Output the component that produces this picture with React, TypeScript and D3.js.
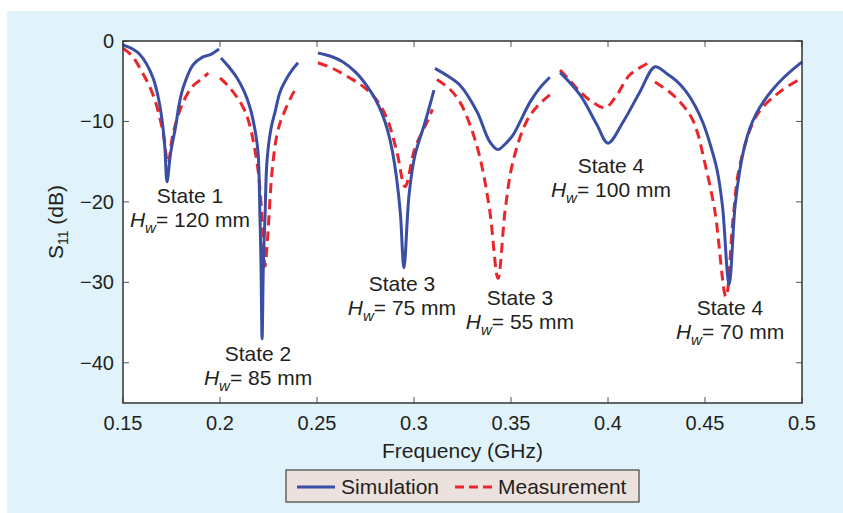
import React, { useEffect, useRef } from 'react'
import * as d3 from 'd3'

// axis ticks
const xTicks = [0.15, 0.2, 0.25, 0.3, 0.35, 0.4, 0.45, 0.5]
const yTicks = [0, -10, -20, -30, -40]

// simulation curve, null = gap between states
const simFreq = [
  0.150, 0.155, 0.1588, 0.162, 0.1655, 0.168, 0.170, 0.1715, 0.1727, 0.1745, 0.177, 0.179, 0.181, 0.186, 0.191, 0.195, 0.1995,
  null,
  0.2005, 0.2045, 0.2088, 0.2125, 0.2155, 0.218, 0.2196, 0.2206, 0.2211, 0.2217, 0.2224, 0.2232, 0.2242, 0.2262, 0.2284, 0.231, 0.2345, 0.2375, 0.2402,
  null,
  0.2505, 0.257, 0.2634, 0.270, 0.2758, 0.280, 0.2835, 0.2865, 0.2887, 0.291, 0.293, 0.2948, 0.2975, 0.3005, 0.3057, 0.3103,
  null,
  0.3108, 0.317, 0.3237, 0.3325, 0.339, 0.3433, 0.347, 0.351, 0.3598, 0.365, 0.370,
  null,
  0.3753, 0.3856, 0.3943, 0.400, 0.4077, 0.4165, 0.4242,
  0.430, 0.435, 0.440, 0.445, 0.449, 0.4525, 0.4562, 0.459, 0.4624, 0.4655, 0.468, 0.4705, 0.4732, 0.4765, 0.480, 0.485, 0.490, 0.495, 0.500,
]
const simDb = [
  -0.5, -1.0, -1.7, -2.8, -4.6, -6.8, -9.6, -13.0, -17.5, -14.0, -10.8, -7.8, -5.8, -3.0, -2.0, -1.7, -1.0,
  null,
  -2.1, -3.2, -4.6, -6.3, -8.3, -11.0, -13.8, -21.9, -27.2, -37.0, -27.2, -21.9, -15.0, -11.0, -8.8, -6.3, -4.6, -3.5, -2.7,
  null,
  -1.5, -1.9, -2.6, -3.9, -5.6, -7.2, -9.0, -11.2, -13.5, -17.0, -21.5, -28.2, -19.0, -14.2, -10.1, -6.1,
  null,
  -3.4, -4.3, -5.5, -8.8, -12.5, -13.5, -12.8, -11.7, -7.6, -5.8, -4.5,
  null,
  -3.9, -6.7, -10.4, -12.7, -10.1, -6.3, -3.2,
  -4.0, -4.9, -6.2, -8.1, -10.2, -12.7, -16.0, -20.5, -30.3, -20.5, -16.0, -13.0, -10.8, -9.0, -7.6, -6.0, -4.7, -3.6, -2.6,
]

// measured curve
const measFreq = [
  0.150, 0.1545, 0.1588, 0.1655, 0.1706, 0.1732, 0.1758, 0.181, 0.186, 0.190, 0.194,
  null,
  0.200, 0.205, 0.213, 0.219, 0.2222, 0.2232, 0.2247, 0.2268, 0.2295, 0.2325, 0.2387, 0.240,
  null,
  0.2505, 0.258, 0.267, 0.274, 0.280, 0.286, 0.2912, 0.2954, 0.3005, 0.3067, 0.3095,
  null,
  0.3118, 0.3185, 0.3237, 0.329, 0.334, 0.339, 0.3433, 0.347, 0.351, 0.358, 0.364, 0.370,
  null,
  0.3753, 0.380, 0.3856, 0.392, 0.3985, 0.4046, 0.4113, 0.4227,
  null,
  0.4242, 0.4335, 0.4423, 0.446, 0.449, 0.455, 0.4608, 0.4645, 0.468, 0.4768, 0.4887, 0.500,
]
const measDb = [
  -0.9, -1.8, -3.4, -6.7, -11.3, -15.2, -11.5, -7.6, -5.6, -4.8, -4.0,
  null,
  -4.6, -5.8, -8.8, -15.0, -23.9, -28.0, -23.9, -16.3, -11.5, -9.2, -6.1, -5.8,
  null,
  -2.7, -3.4, -4.6, -5.7, -7.1, -9.6, -13.8, -18.1, -13.3, -10.1, -8.5,
  null,
  -4.8, -6.0, -7.6, -10.5, -14.5, -21.0, -29.5, -21.0, -15.0, -10.0, -8.0, -6.7,
  null,
  -3.6, -4.8, -6.3, -7.6, -8.3, -6.7, -4.2, -2.5,
  null,
  -5.1, -6.7, -9.2, -11.3, -14.2, -21.0, -31.8, -22.0, -15.4, -9.2, -6.3, -4.6,
]

// annotations: label centre (GHz) and baseline of the first line (dB)
const noteState = ['State 1', 'State 2', 'State 3', 'State 3', 'State 4', 'State 4']
const noteHw = ['120', '85', '75', '55', '100', '70']
const noteFreq = [0.1845, 0.2196, 0.2938, 0.3546, 0.4015, 0.4629]
const noteDb = [-20.2, -39.8, -31.1, -32.8, -16.4, -34.0]

const seriesNames = ['Simulation', 'Measurement']

const W = 843
const H = 513
const BLUE = '#3a4ea3'
const RED = '#ea262c'
const INK = '#231f20'
const FONT = 'Liberation Sans, Arial, sans-serif'

export default function App() {
  const ref = useRef<SVGSVGElement>(null)

  useEffect(() => {
    const svg = d3.select(ref.current)
    svg.selectAll('*').remove()

    const m = { left: 123, top: 41, right: 802, bottom: 403 }
    const x = d3.scaleLinear().domain([0.15, 0.5]).range([m.left, m.right])
    const y = d3.scaleLinear().domain([-45, 0]).range([m.bottom, m.top])

    // panel background
    svg.append('rect')
      .attr('x', 7).attr('y', 11)
      .attr('width', W - 7).attr('height', H - 11)
      .attr('fill', '#e0f2fa')

    svg.append('rect')
      .attr('x', m.left).attr('y', m.top)
      .attr('width', m.right - m.left).attr('height', m.bottom - m.top)
      .attr('fill', '#fff')

    // ticks on all four sides, pointing in
    const tk = svg.append('g').attr('stroke', '#555').attr('stroke-width', 1)
    xTicks.forEach(t => {
      tk.append('line').attr('x1', x(t)).attr('x2', x(t)).attr('y1', m.bottom).attr('y2', m.bottom - 6)
      tk.append('line').attr('x1', x(t)).attr('x2', x(t)).attr('y1', m.top).attr('y2', m.top + 6)
    })
    yTicks.forEach(t => {
      tk.append('line').attr('x1', m.left).attr('x2', m.left + 6).attr('y1', y(t)).attr('y2', y(t))
      tk.append('line').attr('x1', m.right).attr('x2', m.right - 6).attr('y1', y(t)).attr('y2', y(t))
    })

    const txt = svg.append('g').attr('font-family', FONT).attr('fill', INK)

    txt.selectAll('.xt').data(xTicks).join('text')
      .attr('x', d => x(d)).attr('y', 430)
      .attr('text-anchor', 'middle').attr('font-size', 20)
      .text(d => String(d))

    txt.selectAll('.yt').data(yTicks).join('text')
      .attr('x', 114).attr('y', d => y(d) + 7)
      .attr('text-anchor', 'end').attr('font-size', 20)
      .text(d => (d === 0 ? '0' : '\u2212' + Math.abs(d)))

    txt.append('text')
      .attr('x', (m.left + m.right) / 2).attr('y', 458)
      .attr('text-anchor', 'middle').attr('font-size', 21)
      .text('Frequency (GHz)')

    const yl = txt.append('text')
      .attr('transform', 'translate(63,222) rotate(-90)')
      .attr('text-anchor', 'middle').attr('font-size', 21)
    yl.append('tspan').text('S')
    yl.append('tspan').attr('font-size', 14).attr('dy', 5).text('11')
    yl.append('tspan').attr('dy', -5).text(' (dB)')

    // curves
    const simPts = simFreq.map((f, i) => (f === null ? null : [x(f), y(simDb[i] as number)]))
    const measPts = measFreq.map((f, i) => (f === null ? null : [x(f), y(measDb[i] as number)]))
    const path = d3.line<any>()
      .defined(d => d !== null)
      .x(d => d[0]).y(d => d[1])
      .curve(d3.curveCatmullRom.alpha(0.5))

    const plot = svg.append('g')
    plot.append('path')
      .attr('d', path(measPts))
      .attr('fill', 'none').attr('stroke', RED)
      .attr('stroke-width', 3).attr('stroke-dasharray', '10,6')
    plot.append('path')
      .attr('d', path(simPts))
      .attr('fill', 'none').attr('stroke', BLUE)
      .attr('stroke-width', 3).attr('stroke-linejoin', 'round')

    // frame
    svg.append('rect')
      .attr('x', m.left).attr('y', m.top)
      .attr('width', m.right - m.left).attr('height', m.bottom - m.top)
      .attr('fill', 'none').attr('stroke', '#333').attr('stroke-width', 1.5)

    // annotations
    noteState.forEach((s, i) => {
      const cx = x(noteFreq[i])
      const by = y(noteDb[i])
      txt.append('text')
        .attr('x', cx).attr('y', by)
        .attr('text-anchor', 'middle').attr('font-size', 21)
        .text(s)
      const t = txt.append('text')
        .attr('x', cx).attr('y', by + 24)
        .attr('text-anchor', 'middle').attr('font-size', 21)
      t.append('tspan').attr('font-style', 'italic').text('H')
      t.append('tspan').attr('font-style', 'italic').attr('font-size', 15).attr('dy', 6).text('w')
      t.append('tspan').attr('dy', -6).text('= ' + noteHw[i] + ' mm')
    })

    // legend
    const lg = svg.append('g')
    lg.append('rect')
      .attr('x', 286).attr('y', 470).attr('width', 353).attr('height', 32)
      .attr('fill', '#ece1dc').attr('stroke', '#444').attr('stroke-width', 1.2)
    lg.append('line')
      .attr('x1', 297).attr('x2', 335).attr('y1', 487).attr('y2', 487)
      .attr('stroke', BLUE).attr('stroke-width', 3)
    lg.append('line')
      .attr('x1', 455).attr('x2', 493).attr('y1', 487).attr('y2', 487)
      .attr('stroke', RED).attr('stroke-width', 3).attr('stroke-dasharray', '9,5')
    lg.append('text')
      .attr('x', 341).attr('y', 494).attr('font-family', FONT).attr('font-size', 21).attr('fill', INK)
      .text(seriesNames[0])
    lg.append('text')
      .attr('x', 498).attr('y', 494).attr('font-family', FONT).attr('font-size', 21).attr('fill', INK)
      .text(seriesNames[1])
  }, [])

  return (
    <svg
      ref={ref}
      width={W}
      height={H}
      style={{ position: 'absolute', left: 0, top: 0, background: '#fff' }}
    />
  )
}
